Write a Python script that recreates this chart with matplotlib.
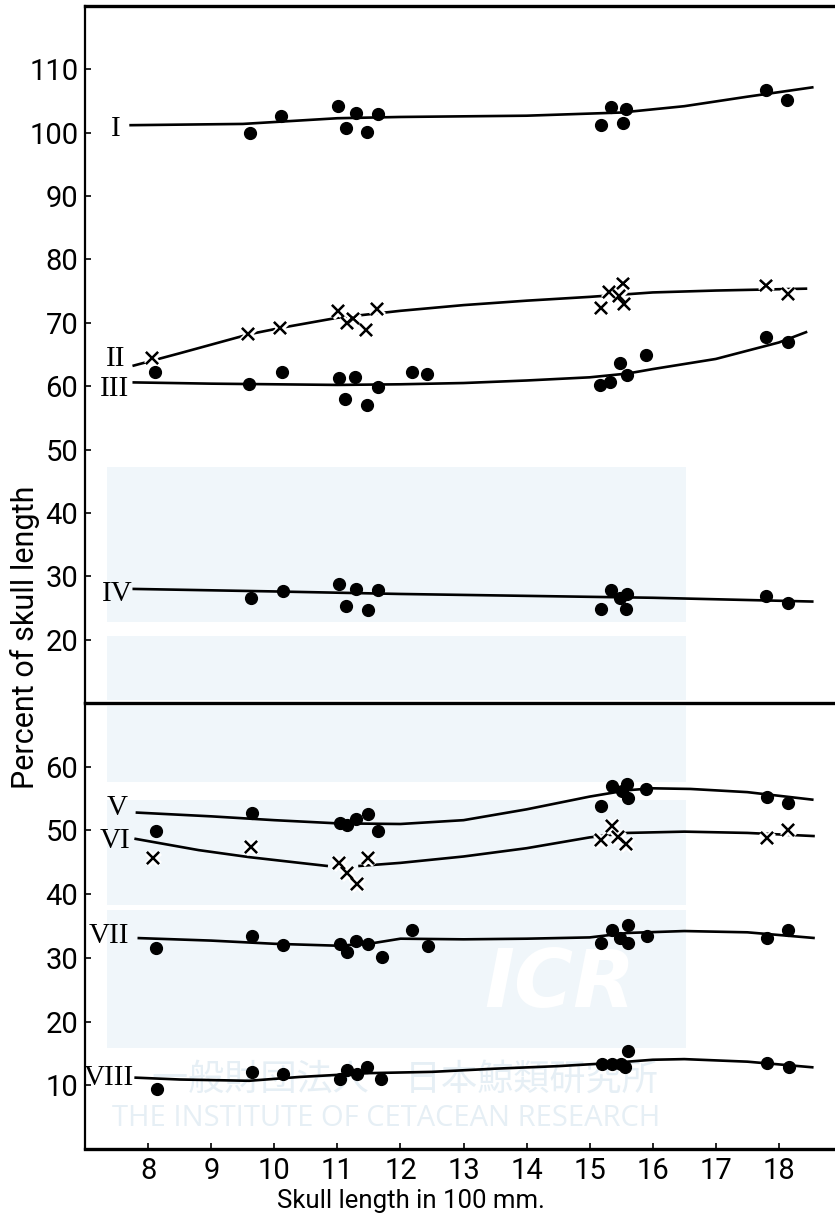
import matplotlib
matplotlib.use("Agg")
import matplotlib.pyplot as plt
import matplotlib.patheffects as pe
from matplotlib.patches import Rectangle

# ---- data (x = skull length in 100 mm, y = percent) ----
# upper panel
i_x = [9.62, 10.11, 11.01, 11.13, 11.29, 11.47, 11.65, 15.18, 15.34, 15.57, 15.53, 17.79, 18.13]
i_y = [100.0, 102.6, 104.2, 100.7, 103.1, 100.2, 102.9, 101.2, 104.0, 103.8, 101.6, 106.7, 105.1]
i_cx = [7.7, 9.5, 11.0, 12.0, 14.0, 15.5, 16.5, 17.5, 18.55]
i_cy = [101.2, 101.4, 102.3, 102.5, 102.7, 103.2, 104.2, 105.7, 107.2]

ii_x = [8.06, 9.58, 10.09, 11.01, 11.15, 11.25, 11.45, 11.63, 15.18, 15.31, 15.53, 15.46, 15.54, 17.79, 18.14]
ii_y = [64.4, 68.3, 69.2, 71.9, 70.0, 70.7, 68.9, 72.2, 72.4, 74.9, 76.2, 74.3, 73.0, 75.9, 74.6]
ii_cx = [7.75, 8.5, 9.6, 10.1, 11.0, 12.0, 13.0, 14.0, 15.0, 16.0, 17.0, 18.45]
ii_cy = [63.2, 65.2, 68.2, 69.2, 70.8, 71.9, 72.8, 73.5, 74.1, 74.8, 75.1, 75.4]

iii_x = [8.10, 9.60, 10.12, 11.03, 11.28, 11.12, 11.47, 11.64, 12.18, 12.42,
         15.16, 15.32, 15.48, 15.59, 15.89, 17.79, 18.14]
iii_y = [62.3, 60.4, 62.3, 61.3, 61.4, 57.9, 57.1, 59.8, 62.3, 62.0,
         60.2, 60.7, 63.7, 61.7, 64.9, 67.8, 66.9]
iii_cx = [7.75, 9.0, 10.0, 11.0, 12.0, 13.0, 14.0, 15.0, 15.6, 16.0, 17.0, 18.0, 18.45]
iii_cy = [60.6, 60.4, 60.3, 60.2, 60.3, 60.5, 60.9, 61.4, 62.0, 62.7, 64.3, 66.9, 68.6]

iv_x = [9.63, 10.14, 11.03, 11.14, 11.29, 11.49, 11.65, 15.18, 15.34, 15.59, 15.48, 15.57, 17.79, 18.14]
iv_y = [26.6, 27.7, 28.8, 25.3, 28.0, 24.7, 27.9, 24.8, 27.9, 27.2, 26.6, 24.8, 26.9, 25.8]
iv_cx = [7.75, 10.0, 12.0, 14.0, 16.0, 18.55]
iv_cy = [28.0, 27.6, 27.2, 26.9, 26.6, 26.0]

# lower panel
v_x = [8.13, 9.65, 11.04, 11.15, 11.30, 11.49, 11.65, 15.18, 15.35, 15.59, 15.51, 15.61, 15.89, 17.81, 18.14]
v_y = [49.9, 52.8, 51.2, 50.9, 51.8, 52.6, 49.9, 53.9, 57.0, 57.2, 56.1, 55.1, 56.5, 55.3, 54.3]
v_cx = [7.8, 9.0, 10.0, 11.0, 12.0, 13.0, 14.0, 15.0, 15.6, 16.0, 16.6, 17.5, 18.55]
v_cy = [52.8, 52.2, 51.6, 51.1, 51.0, 51.6, 53.3, 55.3, 56.3, 56.6, 56.5, 56.0, 54.8]

vi_x = [8.08, 9.63, 11.03, 11.15, 11.31, 11.49, 15.18, 15.35, 15.45, 15.57, 17.81, 18.14]
vi_y = [45.7, 47.4, 44.9, 43.3, 41.6, 45.7, 48.5, 50.7, 49.0, 47.9, 48.8, 50.0]
vi_cx_a = [7.78, 8.8, 9.6, 10.4, 10.85]
vi_cy_a = [48.7, 46.9, 45.8, 44.9, 44.4]
vi_cx_b = [11.33, 12.0, 13.0, 14.0, 15.0, 15.6, 16.5, 17.5, 18.57]
vi_cy_b = [44.4, 44.9, 45.9, 47.2, 48.9, 49.6, 49.8, 49.6, 49.1]

vii_x = [8.13, 9.65, 10.14, 11.04, 11.15, 11.30, 11.49, 11.71, 12.18, 12.44,
         15.18, 15.35, 15.61, 15.48, 15.61, 15.91, 17.81, 18.14]
vii_y = [31.5, 33.5, 32.0, 32.1, 30.9, 32.6, 32.1, 30.2, 34.3, 31.8,
         32.4, 34.3, 35.1, 33.1, 32.4, 33.4, 33.1, 34.3]
vii_cx = [7.83, 9.0, 10.0, 11.0, 11.5, 12.0, 13.0, 14.0, 15.0, 15.6, 16.5, 17.5, 18.57]
vii_cy = [33.1, 32.7, 32.2, 31.9, 32.2, 33.0, 32.9, 33.0, 33.2, 33.9, 34.2, 34.0, 33.1]

viii_x = [8.14, 9.65, 10.14, 11.04, 11.15, 11.31, 11.47, 11.69, 15.19, 15.35, 15.50, 15.56, 15.61, 17.81, 18.16]
viii_y = [9.4, 12.0, 11.8, 11.0, 12.4, 11.7, 12.8, 11.0, 13.4, 13.4, 13.4, 12.8, 15.4, 13.5, 12.9]
viii_cx = [7.78, 8.5, 9.6, 10.4, 11.5, 12.5, 13.5, 14.5, 15.2, 16.0, 16.5, 17.5, 18.55]
viii_cy = [11.2, 10.9, 10.7, 11.3, 11.9, 12.1, 12.6, 13.0, 13.4, 14.0, 14.1, 13.7, 12.8]

x_ticks = [8, 9, 10, 11, 12, 13, 14, 15, 16, 17, 18]
top_yticks = [20, 30, 40, 50, 60, 70, 80, 90, 100, 110]
bot_yticks = [10, 20, 30, 40, 50, 60]

NUM_FONT = ['Roboto', 'DejaVu Sans']
ROMAN_FONT = ['Liberation Serif', 'DejaVu Serif']
WM = '#f0f6fa'

fig = plt.figure(figsize=(8.35, 12.21), dpi=100)

# faint watermark of the source scan
for (x0, y0, x1, y1) in [(107, 467, 686, 622), (107, 636, 686, 700), (107, 706, 686, 782),
                         (107, 800, 686, 905), (107, 910, 686, 1048)]:
    fig.patches.append(Rectangle((x0 / 835, 1 - y1 / 1221), (x1 - x0) / 835, (y1 - y0) / 1221,
                                 transform=fig.transFigure, facecolor=WM, edgecolor='none', zorder=-5))
fig.text(0.67, 1 - 985 / 1221, 'ICR', color='white', fontsize=58, fontweight='bold',
         style='italic', ha='center', va='center', zorder=-4)
fig.text(0.485, 1 - 1080 / 1221, '一般財団法人　日本鯨類研究所', color='#e6eff5', fontsize=26,
         ha='center', va='center', family=['Noto Sans CJK JP', 'DejaVu Sans'], zorder=-4)
fig.text(0.462, 1 - 1118 / 1221, 'THE INSTITUTE OF CETACEAN RESEARCH', color='#e6eff5',
         fontsize=21, ha='center', va='center', family=['Open Sans', 'DejaVu Sans'], zorder=-4)

ax1 = fig.add_axes([0.102, 0.4243, 0.898, 0.5707])
ax2 = fig.add_axes([0.102, 0.059, 0.898, 0.3653])

xlim = (7.0, 18.89)
for ax in (ax1, ax2):
    ax.set_facecolor('none')
    ax.set_xlim(*xlim)
    ax.spines['right'].set_visible(False)
    ax.spines['left'].set_linewidth(1.6)
    ax.tick_params(axis='both', direction='in', length=4.5, width=1.2, pad=5,
                   labelsize=21)
    ax.set_xticks(x_ticks)

ax1.set_ylim(10, 120)
ax2.set_ylim(0, 70)
ax1.spines['top'].set_linewidth(2.4)
ax1.spines['bottom'].set_linewidth(2.4)
ax2.spines['top'].set_visible(False)
ax2.spines['bottom'].set_linewidth(2.4)
ax1.tick_params(axis='x', length=0, labelbottom=False)
ax1.set_yticks(top_yticks)
ax2.set_yticks(bot_yticks)
ax2.tick_params(axis='x', pad=6)

for ax in (ax1, ax2):
    for lab in ax.get_xticklabels() + ax.get_yticklabels():
        lab.set_family(NUM_FONT)

halo = [pe.withStroke(linewidth=5, foreground='white'), pe.Normal()]


def dots(ax, x, y):
    ax.plot(x, y, 'o', color='black', markersize=8.5, zorder=3)


def crosses(ax, x, y):
    ax.plot(x, y, 'x', color='black', markersize=8.5, markeredgewidth=1.6,
            zorder=3, path_effects=halo)


def curve(ax, x, y):
    ax.plot(x, y, '-', color='black', lw=1.9, zorder=2, solid_capstyle='butt')


curve(ax1, i_cx, i_cy);   dots(ax1, i_x, i_y)
curve(ax1, ii_cx, ii_cy); crosses(ax1, ii_x, ii_y)
curve(ax1, iii_cx, iii_cy); dots(ax1, iii_x, iii_y)
curve(ax1, iv_cx, iv_cy); dots(ax1, iv_x, iv_y)

curve(ax2, v_cx, v_cy);   dots(ax2, v_x, v_y)
curve(ax2, vi_cx_a, vi_cy_a); curve(ax2, vi_cx_b, vi_cy_b); crosses(ax2, vi_x, vi_y)
curve(ax2, vii_cx, vii_cy); dots(ax2, vii_x, vii_y)
curve(ax2, viii_cx, viii_cy); dots(ax2, viii_x, viii_y)

# roman numeral labels, right edge just left of each curve
for ax, txt, x, y in [(ax1, 'I', 7.56, 100.6), (ax1, 'II', 7.64, 64.3), (ax1, 'III', 7.70, 59.6),
                      (ax1, 'IV', 7.75, 27.2), (ax2, 'V', 7.67, 53.5), (ax2, 'VI', 7.72, 48.4),
                      (ax2, 'VII', 7.69, 33.4), (ax2, 'VIII', 7.78, 11.1)]:
    ax.text(x, y, txt, ha='right', va='center', fontsize=21, family=ROMAN_FONT)

fig.text(0.030, 1 - 637 / 1221, 'Percent of skull length', rotation=90, ha='center',
         va='center', fontsize=22, family=NUM_FONT)
fig.text(411 / 835, 1 - 1201 / 1221, 'Skull length in 100 mm.', ha='center', va='center',
         fontsize=18.5, family=NUM_FONT)

fig.savefig('out.png', dpi=100)
